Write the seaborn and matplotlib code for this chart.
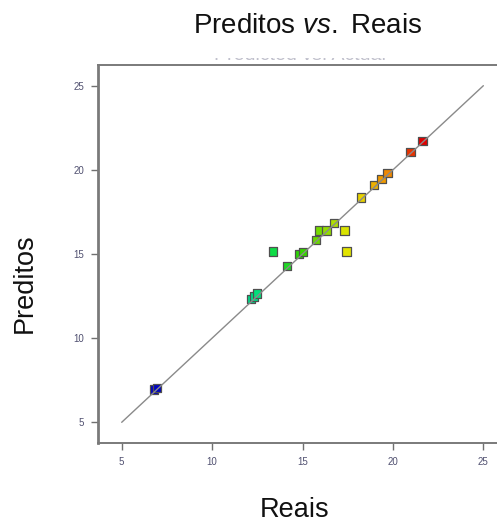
import matplotlib
matplotlib.use("Agg")
import matplotlib.pyplot as plt
from matplotlib.colors import LinearSegmentedColormap
from matplotlib.patches import Rectangle
import seaborn as sns
import pandas as pd

# Observed (actual) and model-predicted responses
reais = [6.80, 6.95, 12.15, 12.30, 12.50, 13.35, 14.14, 14.82, 15.04, 15.73, 15.90,
         16.32, 16.74, 17.33, 17.44, 18.22, 18.94, 19.36, 19.69, 20.98, 21.63]
preditos = [6.95, 7.05, 12.32, 12.47, 12.65, 15.14, 14.27, 14.99, 15.12, 15.84, 16.39,
            16.39, 16.86, 16.39, 15.14, 18.35, 19.09, 19.46, 19.83, 21.06, 21.73]
ticks = [5, 10, 15, 20, 25]

df = pd.DataFrame({"Reais": reais, "Preditos": preditos})

sns.set_theme(style="white")
plt.rcParams["font.family"] = ["Liberation Sans", "DejaVu Sans"]
plt.rcParams["mathtext.fontset"] = "custom"
plt.rcParams["mathtext.rm"] = "Liberation Sans"
plt.rcParams["mathtext.it"] = "Liberation Sans:italic"

# Blue -> green -> yellow -> red gradient for the actual value
cmap = LinearSegmentedColormap.from_list(
    "de_rainbow",
    [(0.00, "#0000c0"), (0.37, "#00e088"), (0.45, "#10dc40"), (0.55, "#30d400"),
     (0.64, "#90dc00"), (0.72, "#e4e400"), (0.78, "#e8d000"), (0.83, "#f0a800"),
     (0.88, "#f08000"), (0.96, "#e83000"), (1.00, "#e00000")])

fig = plt.figure(figsize=(4.97, 5.26), dpi=100)
ax = fig.add_axes([98 / 497, 83 / 526, 402 / 497, 378 / 526])

sns.scatterplot(data=df, x="Reais", y="Preditos", hue="Reais", palette=cmap,
                hue_norm=(min(reais), max(reais)), marker="s", s=36,
                edgecolor="#505050", linewidth=0.9, legend=False, ax=ax, zorder=2)

# Line of perfect agreement
sns.lineplot(x=[5, 25], y=[5, 25], color="#8a8a8a", linewidth=1.0, ax=ax, zorder=3)

ax.set_xlim(3.69, 25.92)
ax.set_ylim(3.77, 26.23)
ax.set_xticks(ticks)
ax.set_yticks(ticks)
ax.set_xticklabels([str(t) for t in ticks])
ax.set_yticklabels([str(t) for t in ticks])
ax.tick_params(axis="both", direction="out", length=5, width=1.0, color="#707070",
               labelsize=7, labelcolor="#505070", pad=5, bottom=True, left=True)

for side in ["left", "bottom", "top"]:
    ax.spines[side].set_visible(True)
    ax.spines[side].set_color("#7a7a7a")
ax.spines["left"].set_linewidth(2.0)
ax.spines["bottom"].set_linewidth(1.4)
ax.spines["top"].set_linewidth(1.4)
ax.spines["right"].set_visible(False)

ax.set_xlabel("")
ax.set_ylabel("")

# Faint subtitle, mostly hidden behind the title band
fig.text(300 / 497, 1 - 60.0 / 526, "Predicted vs. Actual", ha="center",
         va="baseline", fontsize=14, color="#c0c0cc", zorder=1)
fig.add_artist(Rectangle((0, 1 - 57.5 / 526), 1, 57.5 / 526,
                         transform=fig.transFigure, facecolor="white",
                         edgecolor="none", zorder=2))

fig.text(308 / 497, 1 - 26 / 526,
         r"$\mathrm{Preditos}\ \mathit{vs.}\ \mathrm{Reais}$", ha="center",
         va="center", fontsize=20, color="#111111", zorder=3)

fig.text(25 / 497, 1 - 283 / 526, "Preditos", ha="center", va="center", rotation=90,
         fontsize=19.5, color="#111111", zorder=3)
fig.text(295 / 497, 1 - 510 / 526, "Reais", ha="center", va="center",
         fontsize=19.5, color="#111111", zorder=3)

fig.savefig("out.png", dpi=100)
